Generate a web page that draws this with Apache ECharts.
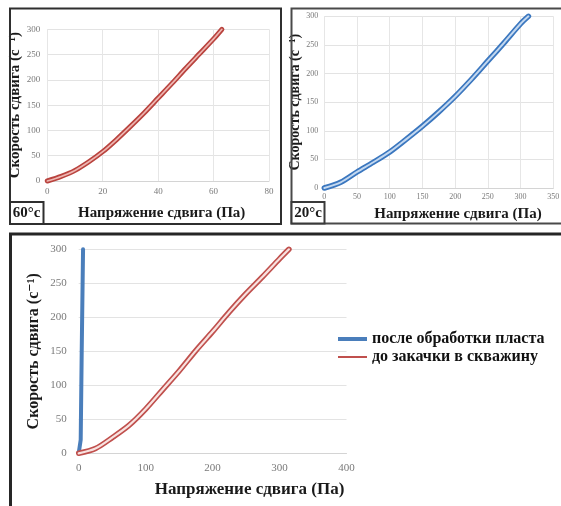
<!DOCTYPE html>
<html>
<head>
<meta charset="utf-8">
<script src="https://cdn.jsdelivr.net/npm/echarts@6/dist/echarts.min.js"></script>
<style>
html,body{margin:0;padding:0;background:#fff;}
#chart{width:561px;height:506px;}
</style>
</head>
<body>
<div id="chart"></div>
<script>
// ---- data ----
// Panel 60°C: shear stress (Pa) vs shear rate (1/s)
const stress60 = [0, 5, 10, 15, 20, 25, 30, 35, 40, 45, 50, 55, 60, 63];
const rate60   = [0, 9, 21, 38, 58, 82, 108, 135, 164, 193, 223, 252, 281, 300];
// Panel 20°C
const stress20 = [0, 25, 50, 75, 100, 125, 150, 175, 200, 225, 250, 275, 300, 312];
const rate20   = [0, 10, 28, 45, 63, 85, 108, 133, 160, 190, 222, 254, 287, 300];
// Bottom panel: "после обработки пласта"
const stressAfter = [0, 3, 4.5, 6.5];
const rateAfter   = [0, 20, 150, 300];
// Bottom panel: "до закачки в скважину"
const stressBefore = [0, 25, 50, 75, 100, 125, 150, 175, 200, 225, 250, 275, 300, 314];
const rateBefore   = [0, 7, 23, 41, 65, 93, 121, 151, 179, 208, 235, 260, 286, 300];

const seriesNames = ['после обработки пласта', 'до закачки в скважину'];
const panelLabels = ['60°c', '20°c'];
const xTitle = 'Напряжение сдвига (Па)';
const yTitle = 'Скорость сдвига (с⁻¹)';

const pairs = (xs, ys) => xs.map((x, i) => [x, ys[i]]);

const SERIF = '"Liberation Serif", "DejaVu Serif", serif';
const tickColor = '#7a7a7a';

function xAx(gi, max, interval, fs, margin, vgrid) {
  return {
    gridIndex: gi, type: 'value', min: 0, max: max, interval: interval,
    axisLine: {show: true, lineStyle: {color: '#d4d4d4', width: 1}},
    axisTick: {show: false},
    splitLine: {show: vgrid, lineStyle: {color: '#e6e6e6'}},
    axisLabel: {fontSize: fs, color: tickColor, fontFamily: SERIF, margin: margin}
  };
}
function yAx(gi, fs, margin, nameGap, nameSize) {
  return {
    gridIndex: gi, type: 'value', min: 0, max: 300, interval: 50,
    axisLine: {show: false}, axisTick: {show: false},
    splitLine: {show: true, lineStyle: {color: '#e3e3e3'}},
    axisLabel: {fontSize: fs, color: tickColor, fontFamily: SERIF, margin: margin},
    name: yTitle, nameLocation: 'middle', nameGap: nameGap,
    nameTextStyle: {fontFamily: SERIF, fontWeight: 'bold', fontSize: nameSize, color: '#1a1a1a'}
  };
}
function line(name, gi, data, color, width, z, smooth) {
  return {
    name: name, type: 'line', xAxisIndex: gi, yAxisIndex: gi, data: data,
    smooth: smooth, showSymbol: false, symbol: 'none', clip: false, z: z,
    lineStyle: {color: color, width: width, cap: 'round', join: 'round'},
    itemStyle: {color: color}, emphasis: {disabled: true}, silent: true
  };
}

const chart = echarts.init(document.getElementById('chart'), null, {renderer: 'canvas'});
chart.setOption({
  animation: false,
  backgroundColor: '#ffffff',
  grid: [
    {left: 47.3, top: 29.3, width: 221.7, height: 151.7, containLabel: false, outerBoundsMode: 'none'},
    {left: 324.3, top: 16.3, width: 229, height: 171.7, containLabel: false, outerBoundsMode: 'none'},
    {left: 78.7, top: 249.3, width: 267.8, height: 204, containLabel: false, outerBoundsMode: 'none'}
  ],
  xAxis: [
    xAx(0, 80, 20, 9, 6, true),
    xAx(1, 350, 50, 8, 5, true),
    xAx(2, 400, 100, 11, 9, false)
  ],
  yAxis: [
    yAx(0, 9, 7, 23, 15),
    yAx(1, 8, 6, 18, 14),
    yAx(2, 11, 12, 37, 16)
  ],
  legend: [
    {
      data: [{name: seriesNames[0], icon: 'rect'}],
      left: 338, top: 331, padding: 0, itemWidth: 29, itemHeight: 4, selectedMode: false,
      textStyle: {fontFamily: SERIF, fontWeight: 'bold', fontSize: 16, color: '#111'}
    },
    {
      data: [{name: seriesNames[1], icon: 'rect'}],
      left: 338, top: 349, padding: 0, itemWidth: 29, itemHeight: 2, selectedMode: false,
      textStyle: {fontFamily: SERIF, fontWeight: 'bold', fontSize: 16, color: '#111'}
    }
  ],
  series: [
    line('60', 0, pairs(stress60, rate60), '#b9433e', 5, 3, 0.3),
    line('60c', 0, pairs(stress60, rate60), '#eeb5b1', 1.7, 4, 0.3),
    line('20', 1, pairs(stress20, rate20), '#3b77bf', 5.5, 3, 0.3),
    line('20c', 1, pairs(stress20, rate20), '#c3d8f0', 2, 4, 0.3),
    line(seriesNames[0], 2, pairs(stressAfter, rateAfter), '#4a7ebb', 4, 3, false),
    line(seriesNames[1], 2, pairs(stressBefore, rateBefore), '#c0504d', 5.5, 4, 0.3),
    line('beforeCore', 2, pairs(stressBefore, rateBefore), '#f8e2e0', 2.2, 5, 0.3)
  ],
  graphic: [
    // panel frames
    {type: 'rect', shape: {x: 10, y: 8.5, width: 271, height: 215.5}, style: {fill: 'none', stroke: '#2f2f2f', lineWidth: 2}, z: 10},
    {type: 'rect', shape: {x: 291.5, y: 8.5, width: 290, height: 215}, style: {fill: 'none', stroke: '#4a4a4a', lineWidth: 2}, z: 10},
    {type: 'rect', shape: {x: 10.5, y: 234, width: 570, height: 290}, style: {fill: 'none', stroke: '#262626', lineWidth: 3}, z: 10},
    // temperature label boxes
    {type: 'rect', shape: {x: 10, y: 202, width: 33.5, height: 22}, style: {fill: '#fff', stroke: '#2f2f2f', lineWidth: 2}, z: 11},
    {type: 'text', x: 26.7, y: 213.5, style: {text: panelLabels[0], align: 'center', verticalAlign: 'middle', font: 'bold 15px "Liberation Serif", serif', fill: '#1a1a1a'}, z: 12},
    {type: 'rect', shape: {x: 291.5, y: 202, width: 33, height: 21.5}, style: {fill: '#fff', stroke: '#3a3a3a', lineWidth: 2}, z: 11},
    {type: 'text', x: 308, y: 213, style: {text: panelLabels[1], align: 'center', verticalAlign: 'middle', font: 'bold 15px "Liberation Serif", serif', fill: '#1a1a1a'}, z: 12},
    // x-axis titles
    {type: 'text', x: 161.7, y: 213.3, style: {text: xTitle, align: 'center', verticalAlign: 'middle', font: 'bold 15px "Liberation Serif", serif', fill: '#1a1a1a'}, z: 12},
    {type: 'text', x: 458, y: 214, style: {text: xTitle, align: 'center', verticalAlign: 'middle', font: 'bold 15px "Liberation Serif", serif', fill: '#1a1a1a'}, z: 12},
    {type: 'text', x: 249.5, y: 490, style: {text: xTitle, align: 'center', verticalAlign: 'middle', font: 'bold 17px "Liberation Serif", serif', fill: '#1a1a1a'}, z: 12}
  ]
});
</script>
</body>
</html>
